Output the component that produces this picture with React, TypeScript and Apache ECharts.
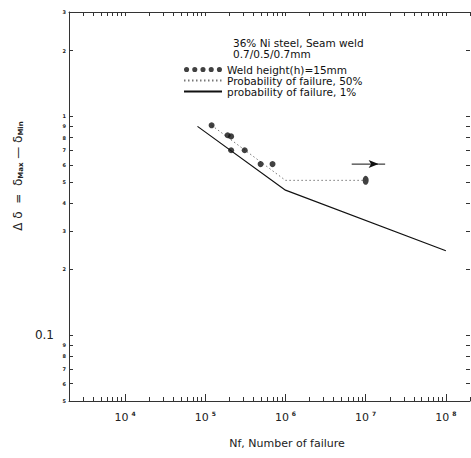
import React, { useEffect, useRef } from "react";
import * as echarts from "echarts";

// ---- data ----
const solidX = [8e4, 1e6, 1e8];
const solidY = [0.9, 0.46, 0.243];

const dottedX = [1.2e5, 1e6, 1e7];
const dottedY = [0.91, 0.51, 0.51];

const pointX = [1.2e5, 1.9e5, 2.1e5, 2.1e5, 3.1e5, 4.9e5, 6.9e5];
const pointY = [0.91, 0.82, 0.81, 0.7, 0.7, 0.605, 0.605];

const runoutX = [1e7];
const runoutY = [0.51];

const arrowX = [6.7e6, 1.45e7, 1.75e7];
const arrowY = [0.605, 0.605, 0.605];

const xDecades = [1e4, 1e5, 1e6, 1e7, 1e8];

const titleLines = ["36% Ni steel, Seam weld", "0.7/0.5/0.7mm"];
const seriesNames = [
  "Weld height(h)=15mm",
  "Probability of failure, 50%",
  "probability of failure, 1%",
];

const FONT = "DejaVu Sans";

function logTicks(fromExp: number, toExp: number, lo: number, hi: number) {
  const out: number[] = [];
  for (let e = fromExp; e <= toExp; e++) {
    for (let m = 1; m <= 9; m++) {
      const v = Number((m * Math.pow(10, e)).toPrecision(6));
      if (v >= lo * 0.999 && v <= hi * 1.001) out.push(v);
    }
  }
  return out;
}

const xAll = logTicks(3, 8, 2e3, 2e8);
const xMinor = xAll.filter((v) => !xDecades.some((d) => Math.abs(d - v) / d < 1e-6));
const yAll = logTicks(-2, 0, 0.05, 3);

const dotsIcon =
  "path://M0,3a2.5,2.5 0 1,0 5,0a2.5,2.5 0 1,0 -5,0M8,3a2.5,2.5 0 1,0 5,0a2.5,2.5 0 1,0 -5,0M16,3a2.5,2.5 0 1,0 5,0a2.5,2.5 0 1,0 -5,0M24,3a2.5,2.5 0 1,0 5,0a2.5,2.5 0 1,0 -5,0M32,3a2.5,2.5 0 1,0 5,0a2.5,2.5 0 1,0 -5,0";

export default function App() {
  const ref = useRef<HTMLDivElement>(null);
  useEffect(() => {
    if (!ref.current) return;
    const chart = echarts.init(ref.current, undefined, { renderer: "svg" });
    const pairs = (xs: number[], ys: number[]) => xs.map((x, i) => [x, ys[i]]);
    const axisLineStyle = { color: "#333", width: 1 };
    const xCommon = {
      type: "log" as const,
      logBase: 10,
      min: 2e3,
      max: 2e8,
      splitLine: { show: false },
    };
    const yCommon = {
      type: "log" as const,
      logBase: 10,
      min: 0.05,
      max: 3,
      splitLine: { show: false },
    };
    chart.setOption({
      animation: false,
      backgroundColor: "#fff",
      grid: { left: 69, right: 1, top: 12, bottom: 57 },
      xAxis: [
        {
          ...xCommon,
          position: "bottom",
          axisLine: { show: true, lineStyle: axisLineStyle },
          axisTick: {
            show: true,
            inside: true,
            length: 7,
            customValues: xDecades,
            lineStyle: { color: "#333" },
          },
          axisLabel: {
            show: true,
            customValues: xDecades,
            margin: 9,
            formatter: (v: number) => "{n|10}{e|" + Math.round(Math.log10(v)) + "}",
            rich: {
              n: { fontFamily: FONT, fontSize: 11, color: "#222" },
              e: {
                fontFamily: FONT,
                fontSize: 6,
                fontWeight: "bold",
                color: "#222",
                padding: [0, 0, 8, 3],
              },
            },
          },
        },
        {
          ...xCommon,
          position: "bottom",
          axisLine: { show: false },
          axisTick: {
            show: true,
            inside: true,
            length: 4,
            customValues: xMinor,
            lineStyle: { color: "#333" },
          },
          axisLabel: { show: false },
        },
        {
          ...xCommon,
          position: "top",
          axisLine: { show: true, lineStyle: axisLineStyle },
          axisTick: {
            show: true,
            inside: true,
            length: 4,
            customValues: xAll,
            lineStyle: { color: "#333" },
          },
          axisLabel: { show: false },
        },
      ],
      yAxis: [
        {
          ...yCommon,
          position: "left",
          axisLine: { show: true, lineStyle: axisLineStyle },
          axisTick: {
            show: true,
            inside: true,
            length: 4,
            customValues: yAll,
            lineStyle: { color: "#333" },
          },
          axisLabel: {
            show: true,
            customValues: yAll,
            margin: 3,
            formatter: (v: number) => {
              if (Math.abs(v - 0.1) < 1e-9) return "{b|0.1}";
              const d = Math.round(v / Math.pow(10, Math.floor(Math.log10(v) + 1e-9)));
              return "{s|" + d + "}";
            },
            rich: {
              b: { fontFamily: FONT, fontSize: 12, color: "#222", padding: [0, 12, 0, 0] },
              s: { fontFamily: FONT, fontSize: 5, fontWeight: "bold", color: "#222" },
            },
          },
        },
        {
          ...yCommon,
          position: "right",
          axisLine: { show: false },
          axisTick: {
            show: true,
            inside: true,
            length: 4,
            customValues: yAll,
            lineStyle: { color: "#333" },
          },
          axisLabel: { show: false },
        },
      ],
      legend: {
        orient: "vertical",
        left: 178,
        top: 59,
        itemWidth: 38,
        itemHeight: 6,
        itemGap: 0,
        selectedMode: false,
        textStyle: { fontFamily: FONT, fontSize: 10.5, color: "#111", lineHeight: 11 },
        data: [
          { name: seriesNames[0], icon: dotsIcon, itemStyle: { color: "#111" } },
          { name: seriesNames[1], itemStyle: { opacity: 0 } },
          { name: seriesNames[2], itemStyle: { opacity: 0 } },
        ],
      },
      graphic: [
        ...titleLines.map((t, i) => ({
          type: "text",
          x: 233,
          y: 43 + i * 11,
          style: {
            text: t,
            fontFamily: FONT,
            fontSize: 10.5,
            fill: "#111",
            verticalAlign: "middle",
          },
        })),
        {
          type: "text",
          x: 18,
          y: 176,
          rotation: Math.PI / 2,
          style: {
            text: "Δ δ  =  δ{s|Max} — δ{s|Min}",
            fontFamily: FONT,
            fontSize: 12,
            fill: "#222",
            align: "center",
            verticalAlign: "middle",
            rich: {
              s: { fontFamily: FONT, fontSize: 7, fontWeight: "bold", fill: "#222", padding: [6, 0, 0, 0] },
            },
          },
        },
        {
          type: "text",
          x: 287,
          y: 443,
          style: {
            text: "Nf, Number of failure",
            fontFamily: FONT,
            fontSize: 11,
            fill: "#222",
            align: "center",
            verticalAlign: "middle",
          },
        },
      ],
      series: [
        {
          name: seriesNames[0],
          type: "scatter",
          data: pairs(pointX, pointY),
          symbol: "circle",
          symbolSize: 6,
          itemStyle: { color: "#111" },
          z: 5,
        },
        {
          name: "runout",
          type: "scatter",
          data: pairs(runoutX, runoutY),
          symbol: "circle",
          symbolSize: [6, 9],
          itemStyle: { color: "#111" },
          z: 5,
        },
        {
          name: seriesNames[1],
          type: "line",
          data: pairs(dottedX, dottedY),
          symbol: "none",
          itemStyle: { color: "#777" },
          lineStyle: { color: "#777", width: 1, type: [1.5, 2.5] },
        },
        {
          name: seriesNames[2],
          type: "line",
          data: pairs(solidX, solidY),
          symbol: "none",
          itemStyle: { color: "#111" },
          lineStyle: { color: "#111", width: 1.2 },
        },
        {
          name: "arrow",
          type: "line",
          data: arrowX.map((x, i) =>
            i === 1
              ? { value: [x, arrowY[i]], symbol: "arrow", symbolSize: [6, 10], symbolRotate: -90 }
              : { value: [x, arrowY[i]], symbol: "none" }
          ),
          showSymbol: true,
          itemStyle: { color: "#111" },
          lineStyle: { color: "#111", width: 1 },
        },
      ],
    });
    return () => chart.dispose();
  }, []);
  return (
    <div
      ref={ref}
      style={{ position: "fixed", left: 0, top: 0, width: 471, height: 458, background: "#fff" }}
    />
  );
}
